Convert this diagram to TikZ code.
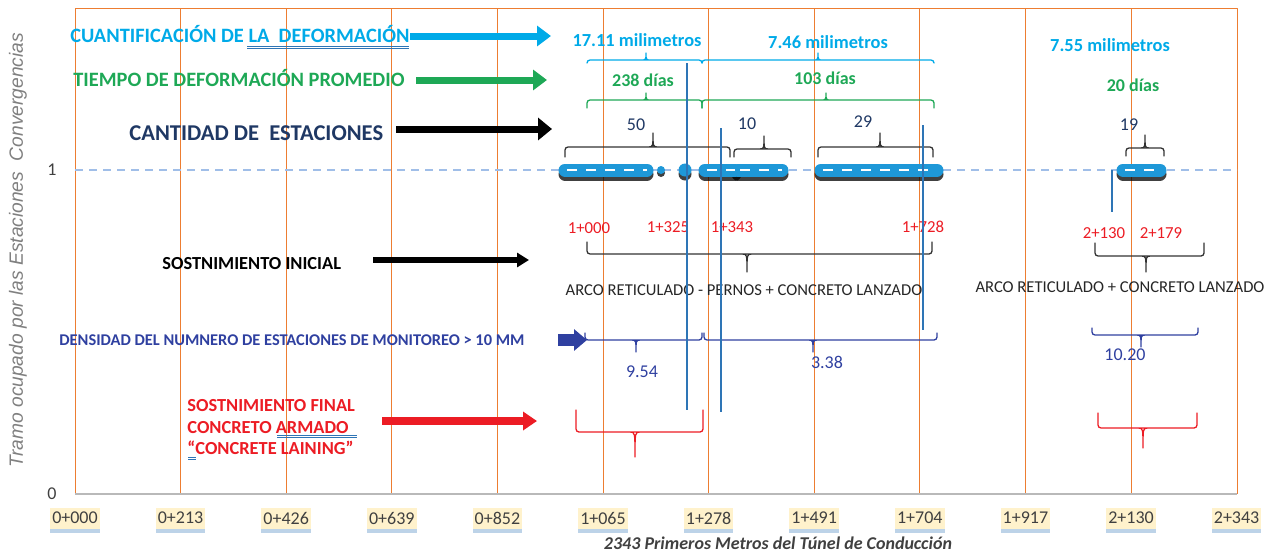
\documentclass[tikz,border=0pt]{standalone}
\usepackage{fontspec}
\setmainfont{Carlito}
\newfontfamily\axisfont{Liberation Sans}
\usetikzlibrary{arrows.meta,shadows}
\definecolor{cyanC}{RGB}{0,170,232}
\definecolor{greenC}{RGB}{30,168,86}
\definecolor{navyC}{RGB}{31,56,100}
\definecolor{densC}{RGB}{47,64,160}
\definecolor{redC}{RGB}{236,28,36}
\definecolor{gridC}{RGB}{237,125,49}
\definecolor{lineC}{RGB}{46,117,182}
\definecolor{blobC}{RGB}{30,152,216}
\definecolor{tickbg}{RGB}{255,242,204}
\definecolor{dashC}{RGB}{160,190,232}
\definecolor{grayC}{RGB}{128,128,128}
\definecolor{textC}{RGB}{64,64,64}
\definecolor{braceC}{RGB}{50,50,50}
\begin{document}
\begin{tikzpicture}[x=0.5pt, y=-0.5pt, line join=round,
	every node/.style={inner sep=0pt},
	fs/.style={font=\fontsize{#1}{#1}\selectfont},
	bfs/.style={font=\fontsize{#1}{#1}\selectfont\bfseries},
	lbl/.style={anchor=base west},
	grid/.style={gridC, line width=0.5pt},
	fatarrow/.style n args={3}{line width=#1, line cap=butt, -{Triangle[length=#2, width=#3]}},
	brc/.style={line width=0.65pt, line cap=round},
	vline/.style={lineC, line width=0.75pt},
	tick/.style={fill=tickbg, fs=9, text=textC, minimum height=10.5pt, inner xsep=1pt,
		drop shadow={shadow xshift=0pt, shadow yshift=-2pt, fill=lineC!70, opacity=0.45}}]
	
	\useasboundingbox (0,0) rectangle (1274,552);
	
	% grid and frame
	\foreach \i in {1,...,10}
		\draw[grid] (75+105.6*\i, 8) -- (75+105.6*\i, 494);
	\draw[grid] (75,494) -- (75,8) -- (1237,8) -- (1237,494);
	\draw[gray!55, line width=0.6pt] (75,494) -- (1237,494);
	\draw[dashC, line width=0.6pt, dash pattern=on 4pt off 3pt] (75,170) -- (1237,170);
	
	\node[fs=9, text=textC] (v1) at (52,170) {1};
	\node[fs=9, text=textC] (v0) at (52,494) {0};
	
	\foreach \i/\t in {0/0+000, 1/0+213, 2/0+426, 3/0+639, 4/0+852, 5/1+065, 6/1+278, 7/1+491, 8/1+704, 9/1+917, 10/2+130, 11/2+343}
		\node[tick] (k\i) at (75+105.6*\i, 518) {\t};
	
	\node[rotate=90, font=\axisfont\itshape\fontsize{9.6}{9.6}\selectfont, text=grayC] (ytitle) at (18,250) {Tramo ocupado por las Estaciones\ \ Convergencias};
	\node[font=\fontsize{9}{9}\selectfont\bfseries\itshape, text=textC] (xtitle) at (778,543) {2343 Primeros Metros del Túnel de Conducción};
	
	% stations
	\foreach \a/\b in {565/647, 705/735, 738/782, 821/937, 1123/1160}
		\draw[line width=6.5pt, line cap=round, black, opacity=0.75] (\a,174) -- (\b,174);
	\fill[black, opacity=0.75] (661,173) circle (4) (685,174) circle (6.5);
	\foreach \a/\b in {565/647, 705/735, 738/782, 821/937, 1123/1160}
		\draw[line width=6.5pt, line cap=round, blobC] (\a,170) -- (\b,170);
	\fill[blobC] (661,170) circle (4) (685,170) circle (6.5);
	\foreach \a/\b in {565/647, 705/735, 738/782, 821/937, 1123/1160}
		\draw[white, line width=1pt, dash pattern=on 5pt off 4.5pt] (\a+2,170) -- (\b,170);
	
	% left labels
	\node[lbl, bfs=10.2, text=cyanC] (cuanti) at (70,42.5) {CUANTIFICACIÓN DE LA\ \ DEFORMACIÓN};
	\node[lbl, bfs=10.2, text=greenC] (tiempo) at (73,86.5) {TIEMPO DE DEFORMACIÓN PROMEDIO};
	\node[lbl, bfs=11.3, text=navyC] (cantidad) at (129,140) {CANTIDAD DE\ \ ESTACIONES};
	\node[lbl, bfs=9.2, text=black] (sostini) at (162,269.5) {SOSTNIMIENTO INICIAL};
	\node[lbl, bfs=8.2, text=densC] (densidad) at (59,345) {DENSIDAD DEL NUMNERO DE ESTACIONES DE MONITOREO > 10 MM};
	\node[lbl, bfs=9.2, text=redC] (sf1) at (187,411) {SOSTNIMIENTO FINAL};
	\node[lbl, bfs=9.2, text=redC] (sf2) at (187,433) {CONCRETO ARMADO};
	\node[lbl, bfs=9.2, text=redC] (sf3) at (187,454) {“CONCRETE LAINING”};
	\draw[lineC, line width=0.5pt] (247,46) -- (409,46) (247,48.5) -- (409,48.5);
	\draw[lineC, line width=0.5pt] (277,435) -- (357,435) (277,437.5) -- (357,437.5);
	\draw[lineC, line width=0.5pt] (188,457) -- (196,457) (188,459.5) -- (196,459.5);
	
	\coordinate (cuantiA) at (410,36);   \coordinate (cuantiB) at (551,36);
	\coordinate (tiempoA) at (416,80);   \coordinate (tiempoB) at (547,80);
	\coordinate (cantA) at (396,129);    \coordinate (cantB) at (552,129);
	\coordinate (iniA) at (373,260);     \coordinate (iniB) at (529,260);
	\coordinate (densA) at (558,340);    \coordinate (densB) at (587,340);
	\coordinate (finA) at (382,421);     \coordinate (finB) at (537,421);
	\draw[fatarrow={3.5pt}{7pt}{10pt}, cyanC] (cuantiA) -- (cuantiB);
	\draw[fatarrow={3.5pt}{7pt}{10pt}, greenC] (tiempoA) -- (tiempoB);
	\draw[fatarrow={3.5pt}{7pt}{11pt}, black] (cantA) -- (cantB);
	\draw[fatarrow={3pt}{6pt}{7pt}, black] (iniA) -- (iniB);
	\draw[fatarrow={6pt}{6.5pt}{10.5pt}, densC] (densA) -- (densB);
	\draw[fatarrow={4pt}{7pt}{9pt}, redC] (finA) -- (finB);
	
	% braces: ends, line, tip
	\foreach \c/\xa/\xm/\xb/\ye/\yl/\yt in {
		cyanC/587/646/702/63/60/53, cyanC/702/818/934/63/60/53,
		greenC/587/646/702/108/100/93, greenC/702/826/934/108/100/93,
		braceC/565/653/730/157/147/133, braceC/734/764/791/157/149/136,
		braceC/818/880/933/157/147/133, braceC/1126/1145/1164/156/148/135,
		braceC/587/747/932/242/254/272, braceC/1095/1146/1204/243/256/272,
		densC/585/636/702/333/340/352, densC/704/813/937/333/340/352,
		densC/1092/1141/1198/328/335/347,
		redC/576/635/703/410/432/457, redC/1098/1143/1197/413/428/448}
		\draw[brc, \c] (\xa,\ye) [rounded corners=1.5pt] -- (\xa,\yl) -- (\xb,\yl) -- (\xb,\ye)
			[sharp corners] (\xm-5,\yl) .. controls (\xm,\yl) .. (\xm,\yt) .. controls (\xm,\yl) .. (\xm+5,\yl);
	
	\node[bfs=9.2, text=cyanC] (mm1) at (637,40) {17.11 milimetros};
	\node[bfs=9.2, text=cyanC] (mm2) at (828,42) {7.46 milimetros};
	\node[bfs=9.2, text=cyanC] (mm3) at (1110,45) {7.55 milimetros};
	\node[bfs=9, text=greenC] (d1) at (643,80) {238 días};
	\node[bfs=9, text=greenC] (d2) at (825,78) {103 días};
	\node[bfs=9, text=greenC] (d3) at (1133,85) {20 días};
	
	\node[fs=9, text=navyC] (n1) at (636,125) {50};
	\node[fs=9, text=navyC] (n2) at (747,124) {10};
	\node[fs=9, text=navyC] (n3) at (863,122) {29};
	\node[fs=9, text=navyC] (n4) at (1129,125) {19};
	
	\foreach \x/\y/\t [count=\j] in {589/228/1+000, 668/227/1+325, 732/227/1+343, 923/227/1+728, 1104/233/2+130, 1161/233/2+179}
		\node[fs=8.4, text=redC] (km\j) at (\x,\y) {\t};
	
	\node[fs=8.3, text=black!85] (arco1) at (744,290) {ARCO RETICULADO - PERNOS + CONCRETO LANZADO};
	\node[fs=8.3, text=black!85] (arco2) at (1120,287) {ARCO RETICULADO + CONCRETO LANZADO};
	
	\node[fs=9, text=densC] (dv1) at (642,372) {9.54};
	\node[fs=9, text=densC] (dv2) at (827,362) {3.38};
	\node[fs=9, text=densC] (dv3) at (1125,355) {10.20};
	
	% limits of the stretches
	\draw[vline] (687,63) -- (687,410);
	\draw[vline] (721,128) -- (721,412);
	\draw[vline] (923,125) -- (923,330);
	\draw[vline] (1112,170) -- (1112,212);
	
\end{tikzpicture}
\end{document}
